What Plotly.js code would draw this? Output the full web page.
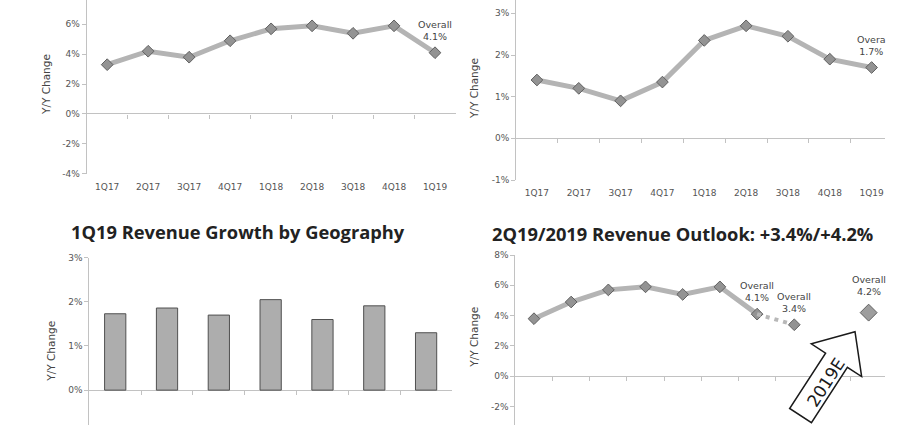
<!DOCTYPE html>
<html><head><meta charset="utf-8">
<script src="https://cdn.plot.ly/plotly-3.0.1.min.js"></script>
<style>html,body{margin:0;padding:0;background:#fff}</style>
</head><body><div id="chart" style="width:900px;height:425px"></div>
<script>
// ---------- data ----------
const quarters = ['1Q17','2Q17','3Q17','4Q17','1Q18','2Q18','3Q18','4Q18','1Q19'];
const totalGrowth = [3.3, 4.2, 3.8, 4.9, 5.7, 5.9, 5.4, 5.9, 4.1];
const secondGrowth = [1.4, 1.2, 0.9, 1.35, 2.35, 2.7, 2.45, 1.9, 1.7];
const geoRegions = ['Region 1','Region 2','Region 3','Region 4','Region 5','Region 6','Region 7'];
const geoGrowth = [1.73, 1.86, 1.70, 2.05, 1.60, 1.91, 1.30];
const outlookPeriods = ['3Q17','4Q17','1Q18','2Q18','3Q18','4Q18','1Q19','2Q19E','gap','2019E'];
const outlookActual = [3.8, 4.9, 5.7, 5.9, 5.4, 5.9, 4.1];
const outlook2Q19 = 3.4;
const outlook2019 = 4.2;
const ticks1 = [-4, -2, 0, 2, 4, 6];
const tickLabels1 = ['-4%', '-2%', '0%', '2%', '4%', '6%'];
const ticks2 = [-1, 0, 1, 2, 3];
const tickLabels2 = ['-1%', '0%', '1%', '2%', '3%'];
const ticks3 = [0, 1, 2, 3];
const tickLabels3 = ['0%', '1%', '2%', '3%'];
const ticks4 = [-2, 0, 2, 4, 6, 8];
const tickLabels4 = ['-2%', '0%', '2%', '4%', '6%', '8%'];
const title3 = '1Q19 Revenue Growth by Geography';
const title4 = '2Q19/2019 Revenue Outlook: +3.4%/+4.2%';
const axisTitle = 'Y/Y Change';

// ---------- geometry helpers ----------
const W = 900, H = 425;
const X = px => px / W;
const Y = py => 1 - py / H;
const panels = {
  p1: {xl: 86.7, xr: 455.5, yt: 0,     yb: 173.7, xr0: -0.5, xr1: 8.5,  y0: -4,    y1: 7.63},
  p2: {xl: 516,  xr: 885,   yt: 0,     yb: 180,   xr0: -0.5, xr1: 8.32, y0: -1,    y1: 3.32},
  p3: {xl: 89.3, xr: 452,   yt: 257.7, yb: 425,   xr0: -0.5, xr1: 6.5,  y0: -0.79, y1: 3},
  p4: {xl: 515.4,xr: 885,   yt: 255,   yb: 425,   xr0: -0.5, xr1: 9.44, y0: -3.21, y1: 8}
};
const zeroPos = p => { const d0 = Y(p.yb), d1 = Y(p.yt); return d0 + (0 - p.y0) / (p.y1 - p.y0) * (d1 - d0); };

const AX = '#c2c2c2';
const TXT = '#555';
const FONT = 'DejaVu Sans';
const lineStyle = {color: '#b4b4b4', width: 5};
const markerStyle = {symbol: 'diamond', size: 9, color: '#939393', line: {color: '#606060', width: 1}};

function xMain(p, cats, showLabels) {
  return {domain: [X(p.xl), X(p.xr)], range: [p.xr0, p.xr1], type: 'category',
    categoryorder: 'array', categoryarray: cats, showline: false, ticks: '', showgrid: false,
    zeroline: false, showticklabels: showLabels, ticklabelstandoff: 6,
    tickfont: {family: FONT, size: 9, color: TXT}, fixedrange: true};
}
function xTicks(p, n, over) {
  const vals = []; for (let i = 0; i < n - 1; i++) vals.push(i + 0.5);
  return {overlaying: over, anchor: 'free', position: zeroPos(p), range: [p.xr0, p.xr1],
    tickvals: vals, ticks: 'outside', ticklen: 4, tickcolor: AX, showticklabels: false,
    showline: false, showgrid: false, zeroline: false};
}
function yMain(p, anchor, tv, tt) {
  return {domain: [Y(p.yb), Y(p.yt)], range: [p.y0, p.y1], anchor: anchor,
    tickvals: tv, ticktext: tt, showline: true, linecolor: AX, linewidth: 1,
    ticks: 'outside', ticklen: 4, tickcolor: AX, showgrid: false,
    zeroline: true, zerolinecolor: AX, zerolinewidth: 1,
    tickfont: {family: FONT, size: 9, color: TXT}};
}

const traces = [
  {type: 'scatter', mode: 'lines+markers', x: quarters, y: totalGrowth, xaxis: 'x', yaxis: 'y',
    line: lineStyle, marker: markerStyle, hoverinfo: 'skip'},
  {type: 'scatter', mode: 'lines+markers', x: quarters, y: secondGrowth, xaxis: 'x2', yaxis: 'y2',
    line: lineStyle, marker: markerStyle, hoverinfo: 'skip'},
  {type: 'bar', x: geoRegions, y: geoGrowth, xaxis: 'x3', yaxis: 'y3', width: 0.41,
    marker: {color: '#adadad', line: {color: '#505050', width: 1}}, hoverinfo: 'skip'},
  {type: 'scatter', mode: 'lines+markers', x: outlookPeriods.slice(0, outlookActual.length), y: outlookActual,
    xaxis: 'x4', yaxis: 'y4', line: lineStyle, marker: markerStyle, hoverinfo: 'skip'},
  {type: 'scatter', mode: 'lines', x: [outlookPeriods[outlookActual.length - 1], '2Q19E'],
    y: [outlookActual[outlookActual.length - 1], outlook2Q19], xaxis: 'x4', yaxis: 'y4',
    line: {color: '#b8b8b8', width: 4, dash: '4px,5px'}, hoverinfo: 'skip'},
  {type: 'scatter', mode: 'markers', x: ['2Q19E'], y: [outlook2Q19], xaxis: 'x4', yaxis: 'y4',
    marker: markerStyle, hoverinfo: 'skip'},
  {type: 'scatter', mode: 'markers', x: ['2019E'], y: [outlook2019], xaxis: 'x4', yaxis: 'y4',
    marker: Object.assign({}, markerStyle, {size: 13, color: '#9e9e9e'}), hoverinfo: 'skip'},
  // dummy traces to register tick-mark overlay axes
  {type: 'scatter', x: [null], y: [null], xaxis: 'x5', yaxis: 'y', hoverinfo: 'skip'},
  {type: 'scatter', x: [null], y: [null], xaxis: 'x6', yaxis: 'y2', hoverinfo: 'skip'},
  {type: 'scatter', x: [null], y: [null], xaxis: 'x7', yaxis: 'y3', hoverinfo: 'skip'},
  {type: 'scatter', x: [null], y: [null], xaxis: 'x8', yaxis: 'y4', hoverinfo: 'skip'}
];

// arrow geometry (pixels)
const ang = 57 * Math.PI / 180;
const u = [Math.cos(ang), -Math.sin(ang)];
const nrm = [Math.sin(ang), Math.cos(ang)];
const tip = [855, 331.7];
const pt = (along, side) => [tip[0] - along * u[0] + side * nrm[0], tip[1] - along * u[1] + side * nrm[1]];
const arrowPts = [pt(0, 0), pt(34, 30), pt(34, 13), pt(100, 13), pt(100, -13), pt(34, -13), pt(34, -30)];
const arrowPath = 'M' + arrowPts.map(q => X(q[0]).toFixed(5) + ',' + Y(q[1]).toFixed(5)).join(' L') + ' Z';
const txtPos = pt(58, 3.5);

const noteFont = {family: FONT, size: 9.5, color: '#444'};
const note = (xref, yref, x, y, text) => ({xref, yref, x, y, text, showarrow: false,
  xanchor: 'center', yanchor: 'bottom', yshift: 9, font: noteFont, align: 'center'});
const paperText = (px, py, text, font, angle) => ({xref: 'paper', yref: 'paper', x: X(px), y: Y(py),
  xanchor: 'center', yanchor: 'middle', text, textangle: angle || 0, showarrow: false, font});
const yTitleFont = {family: FONT, size: 10.5, color: '#444'};
const titleFont = {family: 'Open Sans', size: 18.3, color: '#222', weight: 'bold'};

const layout = {
  width: W, height: H, margin: {l: 0, r: 0, t: 0, b: 0},
  paper_bgcolor: '#fff', plot_bgcolor: 'rgba(0,0,0,0)', showlegend: false,
  xaxis: xMain(panels.p1, quarters, true), yaxis: yMain(panels.p1, 'x', ticks1, tickLabels1),
  xaxis2: Object.assign(xMain(panels.p2, quarters, true), {anchor: 'y2'}),
  yaxis2: yMain(panels.p2, 'x2', ticks2, tickLabels2),
  xaxis3: Object.assign(xMain(panels.p3, geoRegions, false), {anchor: 'y3'}),
  yaxis3: yMain(panels.p3, 'x3', ticks3, tickLabels3),
  xaxis4: Object.assign(xMain(panels.p4, outlookPeriods, false), {anchor: 'y4'}),
  yaxis4: yMain(panels.p4, 'x4', ticks4, tickLabels4),
  xaxis5: xTicks(panels.p1, quarters.length, 'x'),
  xaxis6: xTicks(panels.p2, quarters.length, 'x2'),
  xaxis7: xTicks(panels.p3, geoRegions.length, 'x3'),
  xaxis8: xTicks(panels.p4, outlookPeriods.length, 'x4'),
  shapes: [{type: 'path', xref: 'paper', yref: 'paper', path: arrowPath, fillcolor: '#fff',
    line: {color: '#1a1a1a', width: 1.5}, layer: 'above'}],
  annotations: [
    note('x', 'y', quarters[quarters.length - 1], totalGrowth[totalGrowth.length - 1], 'Overall<br>4.1%'),
    note('x2', 'y2', quarters[quarters.length - 1], secondGrowth[secondGrowth.length - 1], 'Overa<br>1.7%'),
    note('x4', 'y4', outlookPeriods[outlookActual.length - 1], outlookActual[outlookActual.length - 1], 'Overall<br>4.1%'),
    note('x4', 'y4', '2Q19E', outlook2Q19, 'Overall<br>3.4%'),
    Object.assign(note('x4', 'y4', '2019E', outlook2019, 'Overall<br>4.2%'), {yshift: 14}),
    paperText(46, 85, axisTitle, yTitleFont, -90),
    paperText(474, 88, axisTitle, yTitleFont, -90),
    paperText(51, 351.7, axisTitle, yTitleFont, -90),
    paperText(474, 336.7, axisTitle, yTitleFont, -90),
    paperText(238, 231.7, title3, titleFont),
    paperText(682.5, 233, title4, titleFont),
    paperText(txtPos[0], txtPos[1], '2019E', {family: FONT, size: 17, color: '#1a1a1a'}, -57)
  ]
};

Plotly.newPlot('chart', traces, layout, {displayModeBar: false, staticPlot: true});
</script></body></html>
